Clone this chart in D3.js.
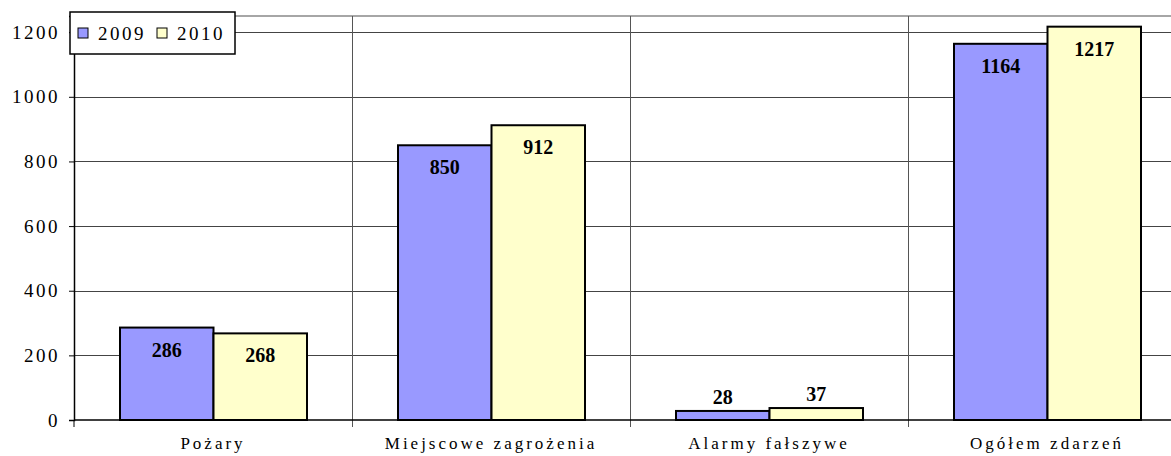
<!DOCTYPE html>
<html lang="pl">
<head>
<meta charset="utf-8">
<title>Zdarzenia 2009-2010</title>
<script src="https://d3js.org/d3.v7.min.js"></script>
<style>
body { margin: 0; background: #fff; }
svg text { font-family: "Liberation Serif", "Times New Roman", serif; }
</style>
</head>
<body>
<div id="chart"></div>
<script>
// data
var categories = ["Pożary", "Miejscowe zagrożenia", "Alarmy fałszywe", "Ogółem zdarzeń"];
var years = ["2009", "2010"];
var values2009 = [286, 850, 28, 1164];
var values2010 = [268, 912, 37, 1217];
var yTicks = [0, 200, 400, 600, 800, 1000, 1200];
var colors = ["#9999ff", "#ffffcc"];

var W = 1171, H = 456;
var margin = {top: 16, left: 74, bottom: 36};
var plotW = 1112; // plot runs past the right edge
var height = H - margin.top - margin.bottom;

var svg = d3.select("#chart").append("svg")
  .attr("width", W).attr("height", H);

var g = svg.append("g")
  .attr("transform", "translate(" + margin.left + "," + margin.top + ")");

var x = d3.scaleBand().domain(categories).range([0, plotW]);
var x1 = d3.scaleBand().domain(years).range([46, x.bandwidth() - 45]);
var y = d3.scaleLinear().domain([0, 1250]).range([height, 0]);

// top border of plot area
g.append("line").attr("x1", 0).attr("x2", plotW).attr("y1", 0).attr("y2", 0)
  .attr("stroke", "#888").attr("stroke-width", 1.5);

// horizontal grid
g.selectAll(".grid").data(yTicks.slice(1)).enter().append("line")
  .attr("x1", 0).attr("x2", plotW)
  .attr("y1", function(d) { return Math.round(y(d)) + 0.5; })
  .attr("y2", function(d) { return Math.round(y(d)) + 0.5; })
  .attr("stroke", "#444").attr("stroke-width", 1);

// vertical category separators
g.selectAll(".vgrid").data(categories.slice(1)).enter().append("line")
  .attr("x1", function(d) { return Math.round(x(d)) + 0.5; })
  .attr("x2", function(d) { return Math.round(x(d)) + 0.5; })
  .attr("y1", 0).attr("y2", height + 7)
  .attr("stroke", "#555").attr("stroke-width", 1);

// y axis
var yAxis = g.append("g")
  .call(d3.axisLeft(y).tickValues(yTicks).tickSize(5).tickPadding(9).tickFormat(d3.format("d")));
yAxis.attr("font-family", null);
yAxis.select(".domain").attr("stroke", "#000").attr("stroke-width", 1.5);
yAxis.selectAll(".tick line").attr("stroke", "#000");
yAxis.selectAll("text").attr("font-size", 19).attr("letter-spacing", "2.5px").attr("fill", "#000");

// bars
var rows = categories.map(function(c, i) {
  return {cat: c, vals: [values2009[i], values2010[i]]};
});
var groups = g.selectAll(".grp").data(rows).enter().append("g")
  .attr("transform", function(d) { return "translate(" + x(d.cat) + ",0)"; });

groups.selectAll("rect").data(function(d) { return d.vals; }).enter().append("rect")
  .attr("x", function(d, i) { return x1(years[i]); })
  .attr("y", function(d) { return y(d); })
  .attr("width", x1.bandwidth())
  .attr("height", function(d) { return height - y(d); })
  .attr("fill", function(d, i) { return colors[i]; })
  .attr("stroke", "#000").attr("stroke-width", 2);

groups.selectAll(".lbl").data(function(d) { return d.vals; }).enter().append("text")
  .attr("x", function(d, i) { return x1(years[i]) + x1.bandwidth() / 2; })
  .attr("y", function(d) { return height - y(d) < 40 ? y(d) - 7 : y(d) + 29; })
  .attr("text-anchor", "middle")
  .attr("font-size", 20).attr("font-weight", "bold")
  .text(function(d) { return d; });

// x axis
g.append("line").attr("x1", 0).attr("x2", plotW).attr("y1", height).attr("y2", height)
  .attr("stroke", "#000").attr("stroke-width", 1.5);
g.append("line").attr("x1", 0).attr("x2", 0).attr("y1", height).attr("y2", height + 7)
  .attr("stroke", "#000");
g.selectAll(".xlbl").data(categories).enter().append("text")
  .attr("x", function(d) { return x(d) + x.bandwidth() / 2; })
  .attr("y", height + 29)
  .attr("text-anchor", "middle")
  .attr("font-size", 17).attr("letter-spacing", "3px")
  .text(function(d) { return d; });

// legend
var leg = svg.append("g").attr("transform", "translate(70,12)");
leg.append("rect").attr("width", 165).attr("height", 42)
  .attr("fill", "#fff").attr("stroke", "#000").attr("stroke-width", 1.5);
years.forEach(function(yr, i) {
  var lx = 8 + i * 79;
  leg.append("rect").attr("x", lx).attr("y", 16).attr("width", 10).attr("height", 10)
    .attr("fill", colors[i]).attr("stroke", "#000").attr("stroke-width", 1);
  leg.append("text").attr("x", lx + 20).attr("y", 28)
    .attr("font-size", 19).attr("letter-spacing", "2.5px").text(yr);
});
</script>
</body>
</html>
